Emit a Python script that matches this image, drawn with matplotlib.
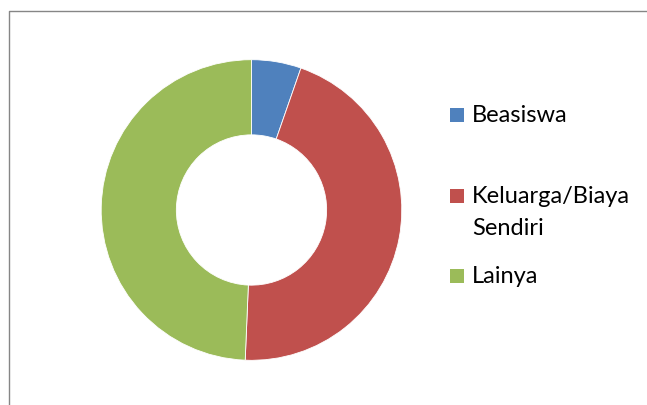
import matplotlib
matplotlib.use('Agg')
import matplotlib.pyplot as plt
from matplotlib.lines import Line2D
from matplotlib.patches import Rectangle

# data
labels = ['Beasiswa', 'Keluarga/Biaya Sendiri', 'Lainya']
values = [4, 34, 37]
colors = ['#4F81BD', '#C0504D', '#9BBB59']
legend_lines = [['Beasiswa'], ['Keluarga/Biaya', 'Sendiri'], ['Lainya']]
legend_baselines = [122, 203, 283]   # px from top

W, H = 647, 405
fig = plt.figure(figsize=(W / 100, H / 100), dpi=100)
plt.rcParams['font.family'] = ['Lato', 'DejaVu Sans']

# donut
cx, cy, r = 251.5, 210, 150.3
ax = fig.add_axes([(cx - r) / W, (H - cy - r) / H, 2 * r / W, 2 * r / H])
ax.pie(values, colors=colors, startangle=90, counterclock=False, radius=1,
       wedgeprops=dict(width=0.5, edgecolor='white', linewidth=0.6))
ax.set_xlim(-1, 1)
ax.set_ylim(-1, 1)
ax.set_aspect('equal')
ax.axis('off')

# chart border (top + left, rest is cropped away)
fig.add_artist(Line2D([9 / W, 9 / W, 1], [0, 1 - 10.5 / H, 1 - 10.5 / H],
                      transform=fig.transFigure, color='#868686', lw=1.0))

# legend
for lines, base, col in zip(legend_lines, legend_baselines, colors):
    fig.add_artist(Rectangle((450 / W, 1 - base / H), 14 / W, 14 / H,
                             transform=fig.transFigure, facecolor=col,
                             edgecolor='none'))
    for i, t in enumerate(lines):
        fig.text(472 / W, 1 - (base + 32 * i) / H, t, fontsize=17,
                 va='baseline', ha='left', color='black')

fig.savefig('out.png', dpi=100)
